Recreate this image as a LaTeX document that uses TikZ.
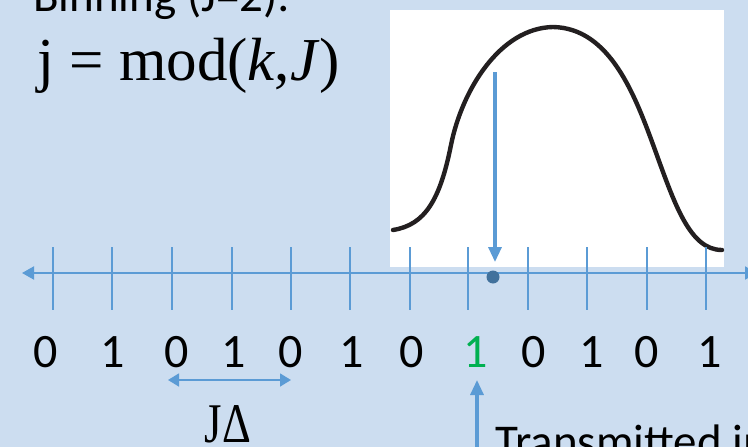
\documentclass[tikz,border=0pt]{standalone}
\usepackage{fontspec}
\setmainfont{Carlito}
\newfontfamily\serifm{Liberation Serif}
\usetikzlibrary{arrows.meta}
\definecolor{bgblue}{HTML}{CCDDF0}
\definecolor{lineblue}{HTML}{5B9BD5}
\definecolor{dotblue}{HTML}{41719C}
\definecolor{curvecol}{HTML}{231F20}
\definecolor{greendig}{HTML}{00B050}
\tikzset{
  tick/.style={draw=lineblue, line width=1.3pt},
  axis/.style={draw=lineblue, line width=2pt, {Triangle[length=12pt,width=13pt]}-{Triangle[length=12pt,width=13pt]}},
  bigarrow/.style={draw=lineblue, line width=3.2pt, -{Triangle[length=15pt,width=13pt]}},
  dimarrow/.style={draw=lineblue, line width=1.6pt, {Triangle[length=11pt,width=13pt]}-{Triangle[length=11pt,width=13pt]}},
  digit/.style={inner sep=0pt, anchor=base, font=\fontsize{48}{50}\selectfont},
  sanstext/.style={inner sep=0pt, anchor=base west, font=\fontsize{47}{50}\selectfont},
}
\begin{document}
\begin{tikzpicture}[x=1pt,y=-1pt]
\useasboundingbox (0,0) rectangle (748,447);
\clip (0,0) rectangle (748,447);
\fill[bgblue] (0,0) rectangle (748,447);
% white plot box
\fill[white] (390,10) rectangle (724,267);
\draw[curvecol, line width=4.4pt, line cap=round] (393,230)
  .. controls (425,225) and (440,200) .. (451,145)
  .. controls (462,90) and (500,28) .. (553,27)
  .. controls (610,28) and (635,95) .. (655,150)
  .. controls (675,205) and (690,250) .. (722,250);
% ticks
\foreach \x in {53,112,172,232,291,350,410,468,528,587,647,706}
  \draw[tick] (\x,247) -- (\x,310);
% axis
\coordinate (axL) at (22,273);
\coordinate (axR) at (757,273);
\draw[axis] (axL) -- (axR);
% dot and down arrow
\node[circle, fill=dotblue, inner sep=0pt, minimum size=13pt] (dot) at (493,277) {};
\coordinate (downstart) at (495,72);
\coordinate (downend) at (495,262);
\draw[bigarrow] (downstart) -- (downend);
% texts
\node[sanstext] (binning) at (33,12) {Binning (J=2):};
\node[inner sep=0pt, anchor=base west, font=\serifm\fontsize{61}{64}\selectfont] (formula) at (37,80) {j = mod(\textit{k},\textit{J})};
% digits
\node[digit] (d1) at (46,367) {0};
\node[digit] (d2) at (113,367) {1};
\node[digit] (d3) at (177,367) {0};
\node[digit] (d4) at (234,367) {1};
\node[digit] (d5) at (291,367) {0};
\node[digit] (d6) at (352,367) {1};
\node[digit] (d7) at (412,367) {0};
\node[digit, text=greendig] (d8) at (476,367) {1};
\node[digit] (d9) at (534,367) {0};
\node[digit] (d10) at (592,367) {1};
\node[digit] (d11) at (647,367) {0};
\node[digit] (d12) at (710,367) {1};
% J Delta
\coordinate (dimL) at (168,380);
\coordinate (dimR) at (291,380);
\draw[dimarrow] (dimL) -- (dimR);
\node[inner sep=0pt, anchor=base, font=\serifm\fontsize{56}{60}\selectfont] (jdelta) at (228,442) {\scalebox{0.8}[1]{JΔ}};
% transmitted arrow
\coordinate (upstart) at (477,460);
\coordinate (upend) at (477,380);
\draw[bigarrow] (upstart) -- (upend);
\node[sanstext] (trans) at (495,457) {Transmitted index};
\end{tikzpicture}
\end{document}
